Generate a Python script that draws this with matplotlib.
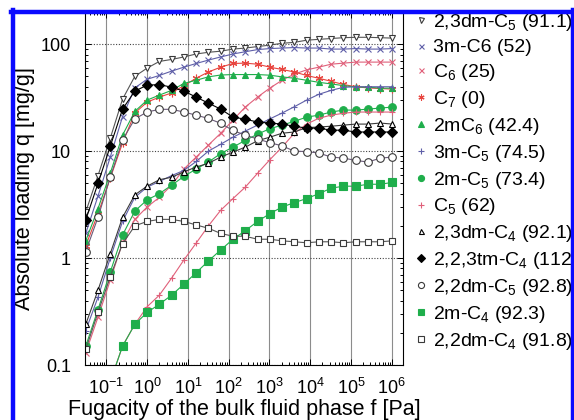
import matplotlib
matplotlib.use("Agg")
import matplotlib.pyplot as plt
from matplotlib.lines import Line2D
from matplotlib.ticker import LogLocator, NullFormatter, FixedLocator

plt.rcParams["font.family"] = ["Liberation Sans", "DejaVu Sans"]
plt.rcParams["mathtext.fontset"] = "custom"
plt.rcParams["mathtext.rm"] = "Liberation Sans"
plt.rcParams["mathtext.it"] = "Liberation Sans:italic"
plt.rcParams["mathtext.bf"] = "Liberation Sans:bold"

# ── Data ──────────────────────────────────────────────────────────────────

fugacity = [0.03125, 0.0625, 0.125, 0.25, 0.5, 1, 2, 4, 8, 16, 32, 64, 128,
            256, 512, 1024, 2048, 4096, 8192, 16384, 32768, 65536, 131072,
            262144, 524288, 1048576]

q_23dmC5 = [2.7, 5.9, 13.2, 30.6, 50, 59.7, 69, 72, 76, 81, 84, 86, 90, 92,
            95, 98, 102, 104, 109, 111, 113, 115, 116, 116, 115, 114]
q_3mC6 = [1.7, 3.8, 8.8, 21, 39, 47, 51, 56, 61, 66, 71, 76, 81, 85, 89, 91,
          92, 93, 92, 92, 90, 90, 91, 90, 90, 91]
q_C6 = [0.13, 0.28, 0.62, 1.4, 2.3, 3.0, 3.7, 4.8, 6.8, 8.8, 11.4, 14.7,
        19.5, 25.8, 32, 38.8, 46, 52.5, 57.5, 61, 65, 66.5, 68, 68, 68, 68]
q_C7 = [1.3, 2.6, 5.6, 11.9, 22.7, 28.7, 32, 35, 41, 48, 55, 61, 66, 66.5,
        65, 61, 58, 55, 51, 48, 45, 42, 40, 39, 38.5, 38]
q_2mC6 = [1.45, 2.9, 6.2, 14.1, 23.5, 30, 33.4, 37, 43, 46, 49.5, 51.5, 52,
          52, 52, 51.3, 49.5, 48, 46, 44, 42.5, 41, 39.7, 39.7, 38.8, 38.8]
q_3mC5 = [0.21, 0.43, 1.0, 2.2, 3.7, 4.6, 5.2, 5.9, 6.6, 8.0, 10.0, 11.6,
          13.5, 15.4, 17.5, 20, 22.7, 26, 30, 34, 37, 39.5, 40, 40, 40, 40]
q_2mC5 = [0.15, 0.33, 0.74, 1.64, 2.75, 3.5, 4.0, 4.8, 5.8, 6.8, 7.9, 9.5,
          10.9, 12.6, 14.4, 16.2, 17.5, 19, 20.8, 21.7, 23.2, 24.2, 24.2,
          24.7, 25.3, 25.8]
q_C5 = [0.017, 0.035, 0.07, 0.15, 0.24, 0.35, 0.45, 0.65, 0.96, 1.38, 2.0,
        2.8, 3.6, 4.6, 6.2, 8.3, 10.9, 14.7, 17.9, 20.3, 21.7, 22.6, 23.2,
        23.2, 23.2, 23.2]
q_23dmC4 = [0.24, 0.50, 1.1, 2.4, 3.9, 4.7, 5.4, 5.7, 6.4, 7.1, 7.7, 8.8,
            9.8, 10.9, 12.5, 13.5, 14.7, 15.1, 16.6, 16.8, 17.1, 17.5, 17.9,
            17.9, 18.3, 17.9]
q_223tmC4 = [2.27, 5.0, 11.1, 24.7, 36.4, 41.4, 41.9, 39.6, 36.4, 32, 28.1,
             24.7, 20.8, 19.9, 18.7, 18.3, 17.9, 17.1, 16.4, 16.4, 15.7,
             15.7, 15.1, 15.1, 15.1, 15.1]
q_22dmC5 = [1.15, 2.4, 5.7, 12.7, 20.0, 23.2, 24.6, 24.6, 23.2, 21.7, 20.2,
            18.2, 15.6, 14.1, 13.0, 12.0, 11.2, 10.0, 9.9, 9.6, 8.8, 8.6,
            8.2, 7.9, 8.6, 8.8]
q_2mC4 = [0.017, 0.035, 0.07, 0.15, 0.24, 0.31, 0.37, 0.45, 0.57, 0.73,
          0.94, 1.19, 1.5, 1.8, 2.2, 2.6, 3.0, 3.3, 3.6, 4.0, 4.5, 4.7, 4.7,
          4.9, 4.9, 5.1]
q_22dmC4 = [0.14, 0.31, 0.67, 1.36, 2.0, 2.2, 2.3, 2.3, 2.2, 2.04, 1.9, 1.7,
            1.6, 1.6, 1.5, 1.5, 1.45, 1.42, 1.39, 1.42, 1.42, 1.39, 1.42,
            1.42, 1.42, 1.45]

labels = [
    r"2,3dm-C$_5$ (91.1)", "3m-C6 (52)", r"C$_6$ (25)", r"C$_7$ (0)",
    r"2mC$_6$ (42.4)", r"3m-C$_5$ (74.5)", r"2m-C$_5$ (73.4)", r"C$_5$ (62)",
    r"2,3dm-C$_4$ (92.1)", r"2,2,3tm-C$_4$ (112)", r"2,2dm-C$_5$ (92.8)",
    r"2m-C$_4$ (92.3)", r"2,2dm-C$_4$ (91.8)",
]
loadings = [q_23dmC5, q_3mC6, q_C6, q_C7, q_2mC6, q_3mC5, q_2mC5, q_C5,
            q_23dmC4, q_223tmC4, q_22dmC5, q_2mC4, q_22dmC4]

# ── Styles ────────────────────────────────────────────────────────────────

GREEN = "#1fae4b"
BLUE = "#5f5fa8"
PINK = "#e0607a"
RED = "#e8453f"
DARK = "#3a3a3a"

styles = [
    dict(marker="v", ms=4.5, mfc="white", mec=DARK, color="#555555"),
    dict(marker="x", ms=4.5, mec=BLUE, color=BLUE),
    dict(marker="x", ms=4.5, mec=PINK, color=PINK),
    dict(marker=(6, 2, 0), ms=5.5, mec=RED, color=RED),
    dict(marker="^", ms=5, mfc=GREEN, mec=GREEN, color=GREEN),
    dict(marker="+", ms=5, mec=BLUE, color=BLUE),
    dict(marker="o", ms=5.5, mfc=GREEN, mec=GREEN, color=GREEN),
    dict(marker="+", ms=5, mec=PINK, color=PINK),
    dict(marker="^", ms=4.5, mfc="white", mec="black", color=DARK),
    dict(marker="D", ms=5.5, mfc="black", mec="black", color="black"),
    dict(marker="o", ms=5.5, mfc="white", mec=DARK, color="#6a5a78"),
    dict(marker="s", ms=5.5, mfc=GREEN, mec=GREEN, color=GREEN),
    dict(marker="s", ms=5, mfc="white", mec=DARK, color="#555555"),
]

# ── Figure ────────────────────────────────────────────────────────────────

fig = plt.figure(figsize=(5.74, 4.2), dpi=100)
ax = fig.add_axes([85 / 574, 1 - 365 / 420, 318 / 574, 353 / 420])

for q, st in zip(loadings, styles):
    ax.plot(fugacity, q, lw=0.8, mew=0.8, **st)

ax.set_xscale("log")
ax.set_yscale("log")
ax.set_xlim(0.03, 1.9e6)
ax.set_ylim(0.1, 200)

ax.xaxis.set_major_locator(FixedLocator([1e-1, 1e0, 1e1, 1e2, 1e3, 1e4, 1e5, 1e6]))
ax.xaxis.set_minor_locator(LogLocator(base=10, subs=range(2, 10), numticks=20))
ax.xaxis.set_minor_formatter(NullFormatter())
ax.set_xticklabels([r"$10^{-1}$", r"$10^{0}$", r"$10^{1}$", r"$10^{2}$",
                    r"$10^{3}$", r"$10^{4}$", r"$10^{5}$", r"$10^{6}$"])
ax.yaxis.set_major_locator(FixedLocator([0.1, 1, 10, 100]))
ax.yaxis.set_minor_locator(LogLocator(base=10, subs=range(2, 10), numticks=20))
ax.yaxis.set_minor_formatter(NullFormatter())
ax.set_yticklabels(["0.1", "1", "10", "100"])

ax.tick_params(which="both", direction="in", top=True, right=True,
               labelsize=13, width=0.7)
ax.tick_params(which="major", length=4)
ax.tick_params(which="minor", length=2.5)
ax.tick_params(axis="y", pad=10)
ax.tick_params(axis="x", pad=9)

ax.grid(True, axis="x", which="major", color="#8c8c8c", lw=0.8, ls="-")
ax.grid(True, axis="y", which="major", color="#444444", lw=0.8, ls=(0, (1, 1.5)))
ax.set_axisbelow(True)
for sp in ax.spines.values():
    sp.set_linewidth(0.8)

ax.set_xlabel("Fugacity of the bulk fluid phase f [Pa]", fontsize=15.5, labelpad=1)
ax.set_ylabel("Absolute loading q [mg/g]", fontsize=15.5, labelpad=4)

# legend: markers only
handles = []
for st in styles:
    h = dict(st)
    h.pop("color")
    handles.append(Line2D([], [], ls="none", mew=0.8, color=st["mec"], **h))
fig.legend(handles, labels, loc="upper left", bbox_to_anchor=(415 / 574, 1 - 12 / 420),
           frameon=False, fontsize=14, handlelength=0.6, handletextpad=0.3,
           labelspacing=0.3, borderpad=0, borderaxespad=0, markerscale=0.8)

# blue frame around the panel
frame_kw = dict(color="#0a0aff", lw=3.2, transform=fig.transFigure, zorder=10)
fig.add_artist(Line2D([12.5 / 574, 12.5 / 574], [0, 1 - 10 / 420], **frame_kw))
fig.add_artist(Line2D([11 / 574, 572.5 / 574], [1 - 11.5 / 420, 1 - 11.5 / 420], **frame_kw))
fig.add_artist(Line2D([572.5 / 574, 572.5 / 574], [0, 1 - 10 / 420], **frame_kw))

fig.savefig("out.png", dpi=100)
